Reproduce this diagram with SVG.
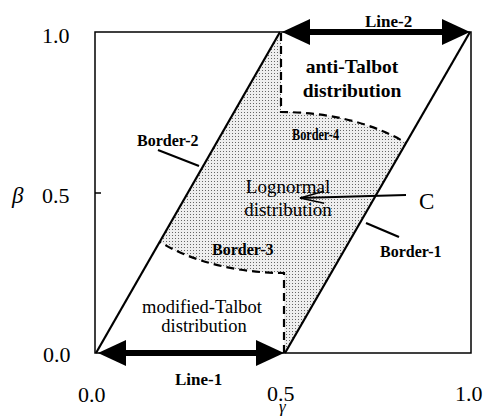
<svg xmlns="http://www.w3.org/2000/svg" width="484" height="417" viewBox="0 0 484 417">
<style>
text{font-family:"Liberation Serif","Times New Roman",serif;fill:#000}
.num{font-size:22px}
.bold{font-weight:bold}
.lab{font-size:16px;font-weight:bold}
.reg{font-size:19px}
.thin{fill:none;stroke:#000;stroke-width:1.5}
.border{fill:none;stroke:#000;stroke-width:2.2}
.dash{fill:none;stroke:#000;stroke-width:2.2;stroke-dasharray:8,5}
.big{fill:none;stroke:#000;stroke-width:6}
</style>
<defs>
<pattern id="dots" width="3" height="3" patternUnits="userSpaceOnUse">
<rect width="3" height="3" fill="#eeeeee"/>
<rect x="1" y="1" width="1" height="1" fill="#666"/>
</pattern>
<marker id="bigArrow" viewBox="0 0 28 26" refX="1" refY="13" markerWidth="28" markerHeight="26" markerUnits="userSpaceOnUse" orient="auto-start-reverse">
<path d="M0,0 L28,13 L0,26 Z" fill="#000"/>
</marker>
<marker id="thinArrow" viewBox="0 0 26 14" refX="25" refY="7" markerWidth="26" markerHeight="14" markerUnits="userSpaceOnUse" orient="auto">
<path d="M1,1 L25,7 L1,13" fill="none" stroke="#000" stroke-width="1.5"/>
</marker>
</defs>
<rect width="484" height="417" fill="#fff"/>

<g id="frame">
<rect x="95" y="32" width="376" height="321" class="thin"/>
<line x1="95" y1="193" x2="101" y2="193" class="thin"/>
</g>

<g id="lognormal-region">
<path d="M160,242 L280,32 L281,32 L281,112 C330,112 375,124 406,143 L285,353 L284,353 L284,273 C236,273 191,261 160,242 Z" fill="url(#dots)"/>
</g>

<g id="axis-labels">
<text x="42" y="43" class="num">1.0</text>
<text x="42" y="203" class="num">0.5</text>
<text x="43" y="362" class="num">0.0</text>
<text x="12" y="203" style="font-size:23px;font-style:italic">β</text>
<text x="78" y="402" class="num">0.0</text>
<text x="267" y="401" class="num">0.5</text>
<text x="455" y="401" class="num">1.0</text>
<text x="279" y="412" style="font-size:17px;font-style:italic">γ</text>
</g>

<g id="connectors">
<line x1="96" y1="353" x2="280" y2="32" class="border"/>
<line x1="285" y1="353" x2="470" y2="32" class="border"/>
<path d="M281,33 L281,112 C330,112 375,124 406,143" class="dash"/>
<path d="M284,353 L284,273 C236,273 191,261 160,242" class="dash"/>
<path d="M125,353 L257,353" class="big" marker-start="url(#bigArrow)" marker-end="url(#bigArrow)"/>
<path d="M309,32 L443,32" class="big" marker-start="url(#bigArrow)" marker-end="url(#bigArrow)"/>
<line x1="158" y1="150" x2="199" y2="166" class="border"/>
<line x1="399" y1="237" x2="366" y2="223" class="border"/>
<path d="M406,195 L300,198" class="border" marker-end="url(#thinArrow)"/>
</g>

<g id="line-1"><text x="175" y="385" class="bold" style="font-size:17px">Line-1</text></g>
<g id="line-2"><text x="365" y="27" class="bold" style="font-size:17px">Line-2</text></g>
<g id="anti-talbot">
<text x="352" y="73" class="bold" style="font-size:19.5px" text-anchor="middle">anti-Talbot</text>
<text x="352" y="97" class="bold" style="font-size:19.5px" text-anchor="middle">distribution</text>
</g>
<g id="modified-talbot">
<text x="202" y="313" class="reg" style="font-size:18.5px" text-anchor="middle">modified-Talbot</text>
<text x="204" y="332" class="reg" style="font-size:18.5px" text-anchor="middle">distribution</text>
</g>
<g id="lognormal">
<text x="288" y="193" class="reg" text-anchor="middle">Lognormal</text>
<text x="288" y="216" class="reg" text-anchor="middle">distribution</text>
</g>
<g id="border-1"><text x="380" y="257" class="lab">Border-1</text></g>
<g id="border-2"><text x="137" y="146" class="lab">Border-2</text></g>
<g id="border-3"><text x="212" y="255" class="lab">Border-3</text></g>
<g id="border-4"><text x="292" y="140" class="lab" textLength="47" lengthAdjust="spacingAndGlyphs">Border-4</text></g>
<g id="point-c"><text x="419" y="209" style="font-size:23px">C</text></g>
</svg>
